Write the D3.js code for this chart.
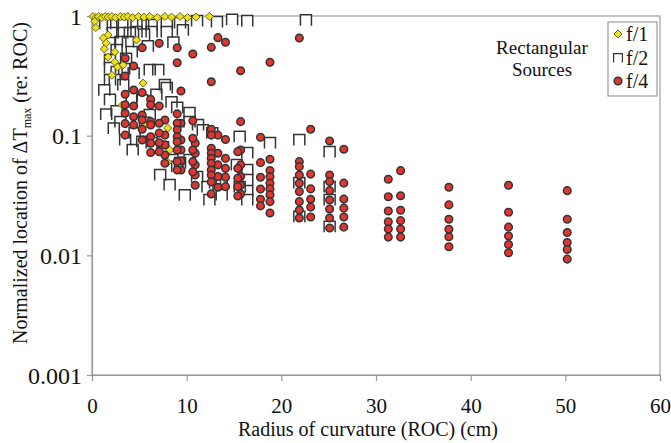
<!DOCTYPE html>
<html><head><meta charset="utf-8">
<script src="https://cdn.jsdelivr.net/npm/d3@7"></script>
</head>
<body style="margin:0;background:#fff">
<svg id="c" width="671" height="443"></svg>
<script>
// ---- data ----
const xTicks = [0,10,20,30,40,50,60];
const yTicks = [1,0.1,0.01,0.001];
const yTickLabels = ["1","0.1","0.01","0.001"];
const seriesNames = ["f/1","f/2","f/4"];

// f/1 (yellow diamonds)
const f1 = [
 [0.1,0.99],[0.4,0.97],[0.7,0.99],[1.05,0.97],[1.4,0.99],[1.7,0.98],[2.1,0.99],[2.5,0.97],
 [3.0,0.99],[3.4,0.98],[3.8,0.99],[4.3,0.97],[4.9,0.99],[5.5,0.98],[6.1,0.99],[6.9,0.97],
 [7.7,0.99],[8.4,0.98],[9.3,0.99],[10.1,0.97],[11.0,0.98],[12.4,0.99],
 [0.3,0.9],[0.4,0.8],[1.7,0.694],[1.2,0.655],[1.5,0.595],[1.3,0.53],[2.4,0.5],[4.7,0.63],
 [3.5,0.454],[1.7,0.454],[2.4,0.413],[2.7,0.375],[3.3,0.39],[2.1,0.32],[5.4,0.275],
 [3.2,0.18],[5.6,0.123],[8.0,0.116],[8.2,0.076],[8.0,0.060]
];

// f/2 (open squares)
const f2 = [
 [2.2,0.841],[3.2,0.841],[4.7,0.874],[5.4,0.857],[6.3,0.841],[7.9,0.874],[9.3,0.874],[11.1,0.908],
 [13.2,0.891],[16.4,0.908],[22.6,0.92],[1.4,0.86],[14.8,0.93],
 [2.2,0.721],[3.2,0.721],[4.0,0.721],[4.7,0.735],[6.3,0.735],[7.9,0.735],[5.5,0.70],[9.6,0.76],
 [1.9,0.595],[3.0,0.606],[3.8,0.606],[1.9,0.429],[1.9,0.368],[2.6,0.34],[6.1,0.354],[7.0,0.354],
 [2.6,0.52],[4.2,0.50],[3.6,0.44],[5.9,0.56],[8.6,0.60],[4.4,0.33],[3.4,0.36],
 [7.7,0.265],[7.9,0.25],[1.9,0.292],[2.4,0.292],[3.3,0.265],[4.2,0.211],[5.3,0.198],
 [9.0,0.171],[10.3,0.155],[10.3,0.13],[11.2,0.123],[11.7,0.111],[12.7,0.105],[15.6,0.098],[18.8,0.087],
 [6.1,0.149],[5.6,0.128],[4.5,0.105],[5.3,0.089],[6.3,0.087],[7.5,0.080],[8.5,0.0627],[9.0,0.055],
 [9.3,0.059],[10.3,0.0627],[11.1,0.0452],[12.2,0.0372],[13.0,0.0402],[13.7,0.0427],[15.3,0.0568],
 [16.4,0.0516],[15.6,0.0372],[16.4,0.0716],[16.4,0.0427],[16.4,0.0345],[16.4,0.0290],
 [21.9,0.092],[21.9,0.0403],[21.9,0.021],[25.1,0.073],[25.1,0.0372],[25.1,0.029],[25.1,0.0173],
 [3.5,0.092],[4.3,0.076],[7.2,0.047],[8.2,0.0387],[9.8,0.0318],[12.4,0.029],[13.7,0.032],
 [1.9,0.2],[2.6,0.16],[3.0,0.13],[1.3,0.24],[1.5,0.15],[2.3,0.115],[6.8,0.22],[8.4,0.19]
];

// f/4 (red circles), grouped by ROC column
const f4Cols = [
 [50.2,[0.0347,0.020,0.0155,0.0128,0.0112,0.0093]],
 [44.0,[0.0385,0.0229,0.0172,0.0145,0.0123,0.0105]],
 [37.7,[0.0371,0.0264,0.020,0.0165,0.0143,0.0118]],
 [32.6,[0.051,0.0315,0.0238,0.0195,0.0166,0.0142]],
 [31.3,[0.0432,0.0309,0.0235,0.0191,0.0166,0.0142]],
 [26.6,[0.077,0.0401,0.0295,0.0248,0.0209,0.0172]],
 [25.1,[0.0902,0.0469,0.0413,0.0347,0.029,0.0244,0.0205,0.0169]],
 [23.1,[0.113,0.0477,0.0359,0.0294,0.0253,0.0209]],
 [21.9,[0.655,0.0607,0.0551,0.0469,0.04,0.0341,0.0281,0.0239,0.0205]],
 [18.8,[0.41,0.0636,0.0511,0.0454,0.04,0.0359,0.032,0.0281,0.0226]],
 [17.8,[0.097,0.0595,0.0449,0.0358,0.0294,0.0259]],
 [15.7,[0.349,0.131,0.0758,0.057,0.0455,0.0385,0.0325]],
 [15.4,[0.0735,0.0533,0.0441,0.0375,0.0313]],
 [14.1,[0.603,0.093,0.0646,0.0533,0.045,0.0375]],
 [13.3,[0.659,0.101,0.0712,0.057,0.0455,0.0371]],
 [12.6,[0.547,0.282,0.113,0.101,0.0785,0.0712,0.0647,0.0589,0.0517,0.0469,0.0411,0.0326]],
 [10.9,[0.0864,0.0712,0.057,0.0469,0.0385]],
 [10.65,[0.482,0.133,0.095,0.0758,0.0607,0.0498]],
 [9.4,[0.236,0.127,0.092,0.0758,0.0616,0.0517]],
 [9.0,[0.543,0.407,0.152,0.127,0.112,0.098,0.089,0.0758,0.0607,0.0517]],
 [7.7,[0.135,0.101,0.0837,0.0688,0.0589]],
 [7.1,[0.591,0.177,0.127,0.105,0.0873,0.0735]],
 [6.2,[0.201,0.181,0.131,0.123,0.098,0.0864,0.0724]],
 [5.3,[0.543,0.229,0.149,0.135,0.113,0.092]],
 [4.4,[0.382,0.241,0.177,0.144,0.123]],
 [3.5,[0.443,0.315,0.222,0.181,0.154,0.126,0.101]]
];
const f4 = f4Cols.flatMap(([x,ys]) => ys.map(y => [x,y]));

// ---- layout ----
const FONT = "'Liberation Serif'";
const svg = d3.select("#c");
const L=92, R=660, T=16, B=375;
const x = d3.scaleLinear().domain([0,60]).range([L,R]);
const y = d3.scaleLog().domain([0.001,1]).range([B,T]);

svg.append("rect").attr("x",L).attr("y",T).attr("width",R-L).attr("height",B-T)
  .attr("fill","none").attr("stroke","#a0a0a0").attr("stroke-width",1.2);

const gx = svg.append("g").attr("transform",`translate(0,${B})`)
  .call(d3.axisBottom(x).tickValues(xTicks).tickSize(6).tickPadding(32).tickFormat(d3.format("d")));
const gy = svg.append("g").attr("transform",`translate(${L},0)`)
  .call(d3.axisLeft(y).tickValues(yTicks).tickSize(5).tickPadding(5)
    .tickFormat((d,i)=>yTickLabels[i]));
[gx,gy].forEach(g=>{
  g.attr("font-family",null).attr("font-size",null);
  g.select(".domain").attr("stroke","#999").attr("stroke-width",1.2);
  g.selectAll(".tick line").attr("stroke","#999").attr("stroke-width",1.2);
  g.selectAll(".tick text").style("font-family",FONT).attr("fill","#111");
});
gy.selectAll(".tick text").style("font-size","24px").attr("dy","0.34em");
gx.selectAll(".tick text").style("font-size","21px").attr("dy","0");

svg.append("text").attr("x",(L+R)/2-8).attr("y",436).attr("text-anchor","middle")
  .style("font-family",FONT).style("font-size","20px").attr("fill","#111")
  .text("Radius of curvature (ROC) (cm)");
const yl = svg.append("text").attr("transform","translate(27,183) rotate(-90)")
  .attr("text-anchor","middle").style("font-family",FONT).style("font-size","20px").attr("fill","#111");
yl.append("tspan").text("Normalized location of ΔT");
yl.append("tspan").attr("dy","4").style("font-size","12px").text("max");
yl.append("tspan").attr("dy","-4").text(" (re: ROC)");

const sqPath = "M-5.5,5.5V-5.5H5.5V5.5";
const diaPath = "M0,-4L4,0L0,4L-4,0Z";
const plot = svg.append("g");

plot.selectAll(".s2").data(f2).join("path").attr("class","s2")
  .attr("transform",d=>`translate(${x(d[0])},${y(d[1])})`)
  .attr("d","M-5.5,5.5V-5.5H5.5V5.5Z").attr("fill","#fff").attr("stroke","none");
plot.selectAll(".s2b").data(f2).join("path").attr("class","s2b")
  .attr("transform",d=>`translate(${x(d[0])},${y(d[1])})`)
  .attr("d",sqPath).attr("fill","none").attr("stroke","#333").attr("stroke-width",1.5);

plot.selectAll(".s1").data(f1).join("path").attr("class","s1")
  .attr("transform",d=>`translate(${x(d[0])},${y(d[1])})`)
  .attr("d",diaPath).attr("fill","#ece020").attr("stroke","#6b6a10").attr("stroke-width",1);

plot.selectAll(".s4").data(f4).join("circle").attr("class","s4")
  .attr("cx",d=>x(d[0])).attr("cy",d=>y(d[1])).attr("r",3.8)
  .attr("fill","#e23530").attr("stroke","#333").attr("stroke-width",1.5);

svg.append("text").attr("x",542).attr("y",54).attr("text-anchor","middle")
  .style("font-family",FONT).style("font-size","19px").attr("fill","#111").text("Rectangular");
svg.append("text").attr("x",542).attr("y",76).attr("text-anchor","middle")
  .style("font-family",FONT).style("font-size","19px").attr("fill","#111").text("Sources");

const lg = svg.append("g");
lg.append("rect").attr("x",608).attr("y",22).attr("width",49).attr("height",74)
  .attr("fill","#fff").attr("stroke","#999").attr("stroke-width",1.2);
const ly = [34,58,81];
lg.append("path").attr("transform",`translate(618,${ly[0]})`).attr("d",diaPath)
  .attr("fill","#ece020").attr("stroke","#6b6a10").attr("stroke-width",1);
lg.append("path").attr("transform",`translate(618,${ly[1]}) scale(0.8)`).attr("d",sqPath)
  .attr("fill","none").attr("stroke","#333").attr("stroke-width",1.5);
lg.append("circle").attr("cx",618).attr("cy",ly[2]).attr("r",3.8)
  .attr("fill","#e23530").attr("stroke","#333").attr("stroke-width",1.5);
seriesNames.forEach((n,i)=>{
  lg.append("text").attr("x",626).attr("y",ly[i]+7).style("font-family",FONT)
    .style("font-size","20px").attr("fill","#111").text(n);
});
</script></body></html>
